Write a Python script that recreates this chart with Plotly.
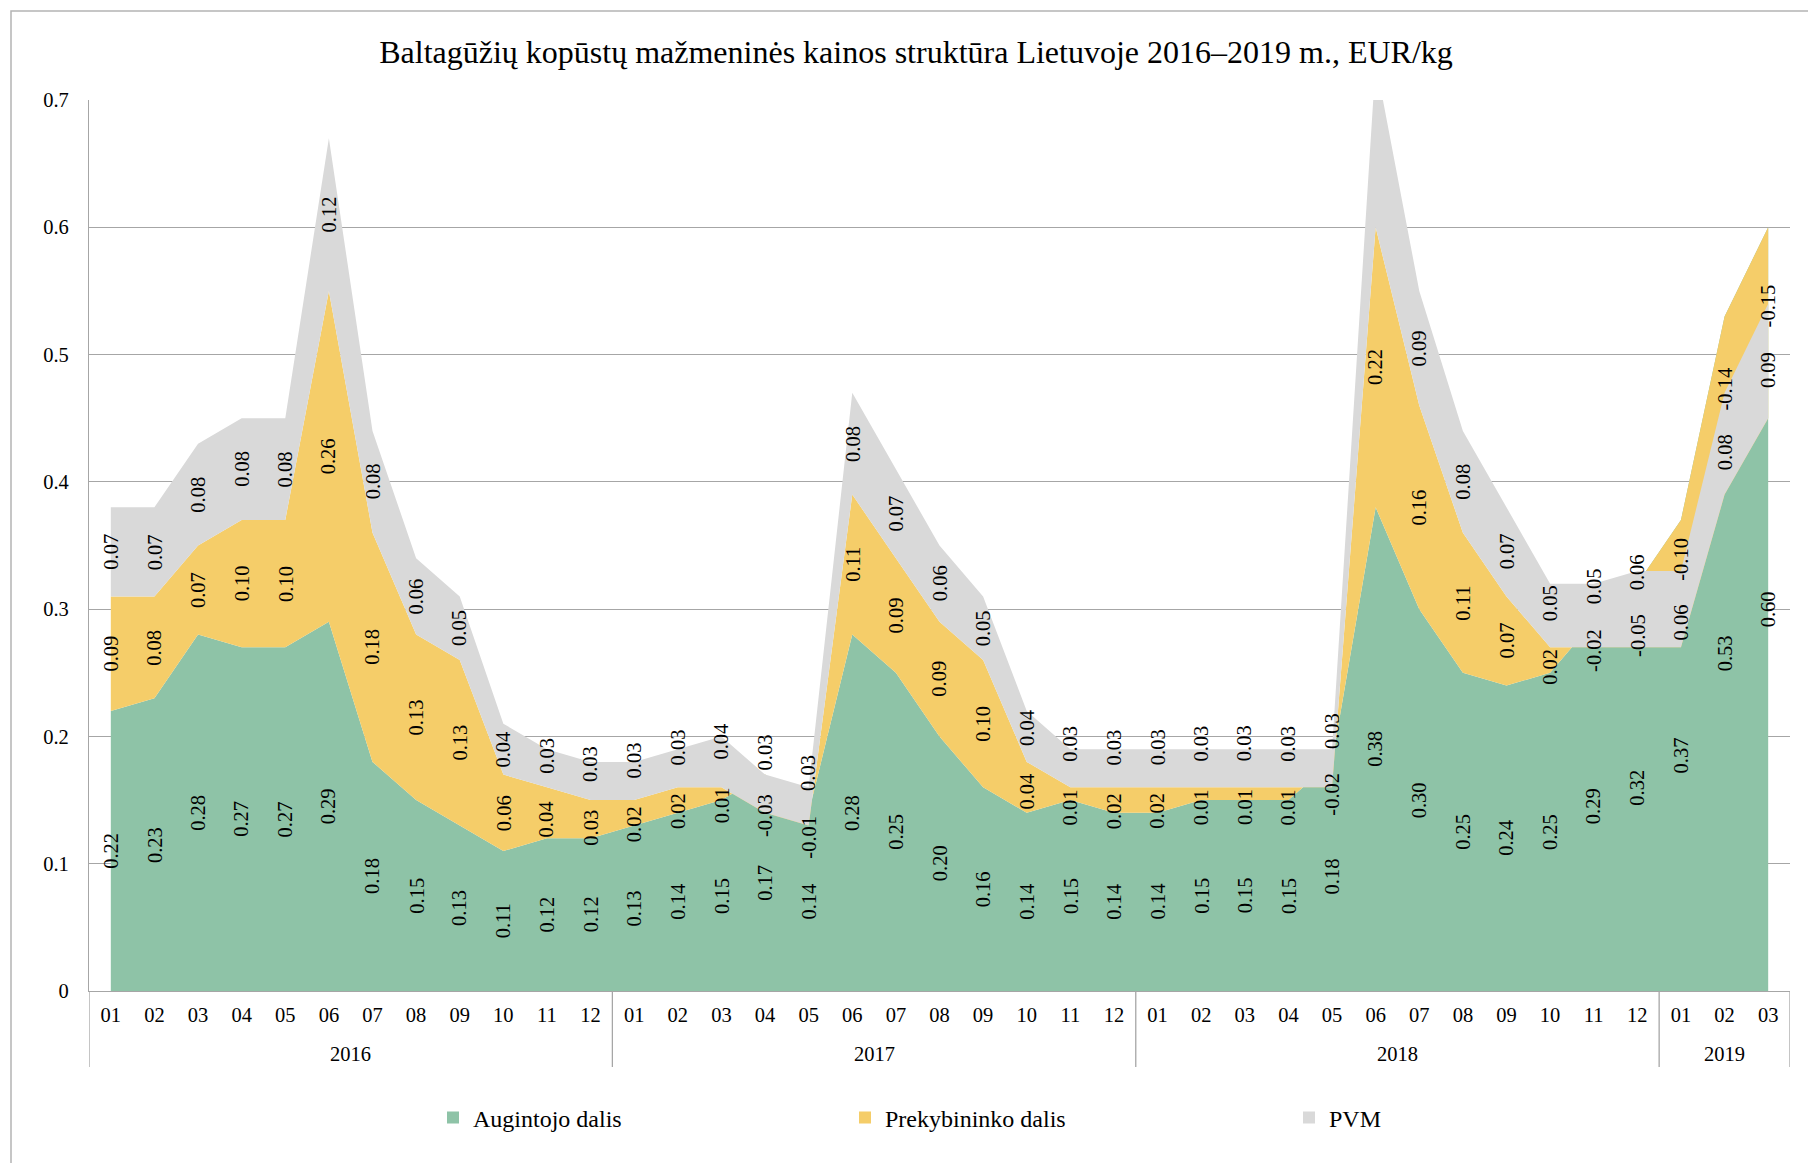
import numpy as np
import plotly.graph_objects as go

# --- data -----------------------------------------------------------------
years = ["2016"] * 12 + ["2017"] * 12 + ["2018"] * 12 + ["2019"] * 3
months = [f"{m:02d}" for m in range(1, 13)] * 3 + ["01", "02", "03"]

augintojo = [0.22, 0.23, 0.28, 0.27, 0.27, 0.29, 0.18, 0.15, 0.13, 0.11, 0.12, 0.12,
             0.13, 0.14, 0.15, 0.17, 0.14, 0.28, 0.25, 0.20, 0.16, 0.14, 0.15, 0.14,
             0.14, 0.15, 0.15, 0.15, 0.18, 0.38, 0.30, 0.25, 0.24, 0.25, 0.29, 0.32,
             0.37, 0.53, 0.60]
prekybininko = [0.09, 0.08, 0.07, 0.10, 0.10, 0.26, 0.18, 0.13, 0.13, 0.06, 0.04, 0.03,
                0.02, 0.02, 0.01, -0.03, -0.01, 0.11, 0.09, 0.09, 0.10, 0.04, 0.01, 0.02,
                0.02, 0.01, 0.01, 0.01, -0.02, 0.22, 0.16, 0.11, 0.07, 0.02, -0.02, -0.05,
                -0.10, -0.14, -0.15]
pvm = [0.07, 0.07, 0.08, 0.08, 0.08, 0.12, 0.08, 0.06, 0.05, 0.04, 0.03, 0.03,
       0.03, 0.03, 0.04, 0.03, 0.03, 0.08, 0.07, 0.06, 0.05, 0.04, 0.03, 0.03,
       0.03, 0.03, 0.03, 0.03, 0.03, 0.13, 0.09, 0.08, 0.07, 0.05, 0.05, 0.06,
       0.06, 0.08, 0.09]

series_names = ["Augintojo dalis", "Prekybininko dalis", "PVM"]
series_colors = ["#8EC3A7", "#F5CD69", "#D9D9D9"]

title_text = "Baltagūžių kopūstų mažmeninės kainos struktūra Lietuvoje 2016–2019 m., EUR/kg"

# --- layout geometry (pixels) --------------------------------------------
W, H = 1808, 1163
PL, PR, PT, PB = 89, 1790, 100, 991
YMAX = 0.7
FONT = "Liberation Serif, Times New Roman, serif"
GRID = "#A6A6A6"
TXT = "#000000"


def px_x(px):
    return (px - PL) / (PR - PL)


def px_y(py):
    return (PB - py) / (PB - PT)


def spread(centres, min_gap=0.05, share_down=0.35):
    """Push label centres apart so neighbouring labels do not collide."""
    order = sorted(range(len(centres)), key=lambda k: (round(centres[k], 6), k))
    pos = list(centres)
    for _ in range(20):
        moved = False
        for a, b in zip(order, order[1:]):
            gap = pos[b] - pos[a]
            if gap < min_gap - 1e-9:
                d = min_gap - gap
                pos[a] -= d * share_down
                pos[b] += d * (1 - share_down)
                moved = True
        if not moved:
            break
    return pos


n = len(months)
xs = np.arange(n)

fig = go.Figure()

series = [augintojo, prekybininko, pvm]
for name, vals, col in zip(series_names, series, series_colors):
    fig.add_trace(go.Scatter(
        x=xs, y=vals, name=name, mode="lines",
        stackgroup="price", fill="tonexty", fillcolor=col,
        line=dict(width=0, color=col), showlegend=False,
        hoverinfo="skip",
    ))

# Rotated value labels placed in the middle of each stacked band
vals_arr = np.array(series)
tops = np.cumsum(vals_arr, axis=0)
mids = tops - vals_arr / 2

annotations = []
for i in range(n):
    visible = [s for s in range(len(series)) if tops[s, i] <= YMAX]
    centres = spread([mids[s, i] for s in visible])
    for s, yc in zip(visible, centres):
        annotations.append(dict(
            x=xs[i], y=yc, xref="x", yref="y", text=f"{vals_arr[s, i]:.2f}",
            textangle=-90, showarrow=False,
            font=dict(family=FONT, size=20.5, color=TXT),
        ))

# Year group labels and the dividers between year groups
shapes = []
year_names = list(dict.fromkeys(years))
bounds = [-0.5]
for yname in year_names:
    idx = [i for i, yv in enumerate(years) if yv == yname]
    annotations.append(dict(
        x=(idx[0] + idx[-1]) / 2, y=px_y(1054), xref="x", yref="paper",
        text=yname, showarrow=False, yanchor="middle",
        font=dict(family=FONT, size=20.5, color=TXT),
    ))
    bounds.append(idx[-1] + 0.5)
for b in bounds:
    shapes.append(dict(
        type="line", xref="x", yref="paper", x0=b, x1=b,
        y0=0, y1=px_y(1067), line=dict(color=GRID, width=1.3),
    ))

# Legend: one small square per series, each in its own legend box
legend_keys = ["legend", "legend2", "legend3"]
legend_text_px = [479, 891, 1335]
for name, col, key in zip(series_names, series_colors, legend_keys):
    fig.add_trace(go.Scatter(
        x=[None], y=[None], mode="markers", name=name,
        marker=dict(symbol="square", size=12, color=col),
        legend=key, showlegend=True,
    ))

legend_common = dict(
    orientation="h", yanchor="middle", y=px_y(1118), xanchor="left",
    font=dict(family=FONT, size=24, color=TXT),
    bgcolor="rgba(0,0,0,0)", itemwidth=30,
)
legends = {}
for key, tx in zip(legend_keys, legend_text_px):
    legends[key] = dict(legend_common, x=px_x(tx - 46))

# Chart-area border
shapes.append(dict(
    type="rect", xref="paper", yref="paper",
    x0=px_x(11), x1=px_x(1830), y0=px_y(1175), y1=px_y(11),
    line=dict(color="#B4B4B4", width=1.5), fillcolor="rgba(0,0,0,0)", layer="below",
))

fig.update_layout(
    width=W, height=H,
    margin=dict(l=PL, r=W - PR, t=PT, b=H - PB, pad=0),
    paper_bgcolor="#FFFFFF", plot_bgcolor="#FFFFFF",
    font=dict(family=FONT, size=20.5, color=TXT),
    title=dict(text=title_text, x=916 / W, xref="container", xanchor="center",
               y=1 - 52 / H, yref="container", yanchor="middle",
               font=dict(family=FONT, size=32, color=TXT)),
    xaxis=dict(
        range=[-0.5, n - 0.5], tickmode="array", tickvals=xs, ticktext=months,
        showgrid=False, zeroline=False, showline=True, linecolor=GRID, linewidth=1.3,
        ticks="", ticklabelstandoff=5,
        tickfont=dict(family=FONT, size=20.5, color=TXT),
        fixedrange=True,
    ),
    yaxis=dict(
        range=[0, YMAX], dtick=0.1, tick0=0,
        showgrid=True, gridcolor=GRID, gridwidth=1.3,
        showline=True, linecolor=GRID, linewidth=1.3,
        zeroline=False, ticks="", ticklabelstandoff=15,
        tickfont=dict(family=FONT, size=20.5, color=TXT),
        fixedrange=True,
    ),
    annotations=annotations,
    shapes=shapes,
    showlegend=True,
    **legends,
)

fig.write_html("out.html")
